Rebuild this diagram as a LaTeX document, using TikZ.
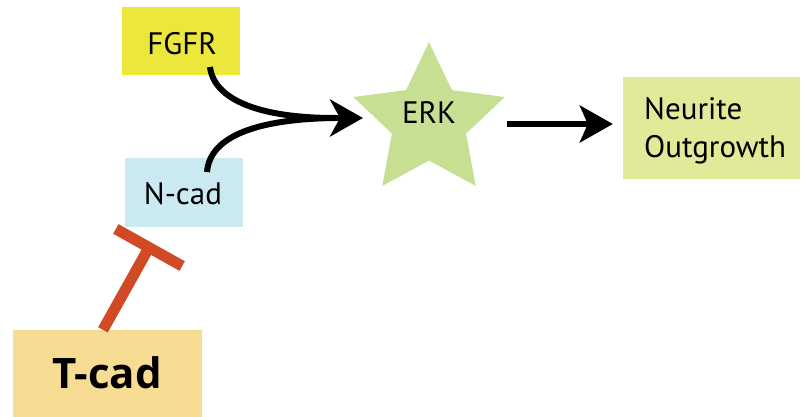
\documentclass[tikz,border=0pt]{standalone}
\usepackage{fontspec}
\setmainfont{PT Sans}
\newfontfamily\tcadfont{Open Sans}
\usetikzlibrary{arrows.meta,shapes.geometric,calc}
\definecolor{fgfrc}{HTML}{EDE73B}
\definecolor{ncadc}{HTML}{CAE9F1}
\definecolor{erkc}{HTML}{C6DF92}
\definecolor{neurc}{HTML}{E2E999}
\definecolor{tcadc}{HTML}{F7DC93}
\definecolor{inhc}{HTML}{D14A26}
\tikzset{
  box/.style={rectangle, draw=none, inner sep=0pt},
  txt/.style={inner sep=0pt, font=\fontsize{31}{38}\selectfont},
  curvearr/.style={line width=6pt, black},
  headarr/.style={line width=6pt, black, -{Stealth[length=33pt,width=37pt,inset=10pt]}},
  straightarr/.style={line width=5.5pt, black, -{Stealth[length=33pt,width=37pt,inset=8pt]}},
  inh/.style={line width=11pt, inhc}
}
\begin{document}
\begin{tikzpicture}[x=1pt,y=-1pt]
\useasboundingbox (0,0) rectangle (808,417);
% boxes
\node[box, fill=fgfrc, minimum width=118pt, minimum height=68pt] (fgfr) at (181,41) {};
\node[txt] (fgfrtxt) at (182,44) {FGFR};
\node[box, fill=ncadc, minimum width=118pt, minimum height=69pt] (ncad) at (184,192.5) {};
\node[txt] (ncadtxt) at (183,194) {N-cad};
\node[star, star points=5, star point ratio=2.04, minimum size=159pt, inner sep=0pt, fill=erkc, draw=none] (erk) at (429,121.6) {};
\node[txt] (erktxt) at (429,113) {ERK};
\node[box, fill=neurc, minimum width=177pt, minimum height=102pt] (neur) at (711.5,128) {};
\node[txt, align=left, anchor=west] (neurtxt) at (644,131) {Neurite\\Outgrowth};
\node[box, fill=tcadc, minimum width=189pt, minimum height=90pt] (tcad) at (107.5,375) {};
\node[inner sep=0pt, font=\tcadfont\bfseries\fontsize{42}{50}\selectfont] (tcadtxt) at (107,373) {T-cad};
% connectors
\coordinate (tip) at (363,118);
\coordinate (join) at (335,118);
\draw[curvearr] ([xshift=29pt,yshift=-26pt]fgfr.center) .. controls (214,100) and (260,118) .. (join);
\draw[curvearr] ([xshift=23pt,yshift=20.5pt]ncad.center) .. controls (210,135) and (260,119) .. (join);
\draw[headarr] ([xshift=-10pt]join) -- (tip);
\draw[straightarr] ([xshift=78pt,yshift=-2.4pt]erk.center) -- ([xshift=-10pt,yshift=4pt]neur.west);
% inhibition
\coordinate (stem) at ([xshift=-4.5pt,yshift=0pt]tcad.north);
\coordinate (barc) at (149,247.5);
\draw[inh] (stem) -- (barc);
\draw[inh] ($(barc)!38pt!90:(stem)$) -- ($(barc)!38pt!-90:(stem)$);
\end{tikzpicture}
\end{document}
